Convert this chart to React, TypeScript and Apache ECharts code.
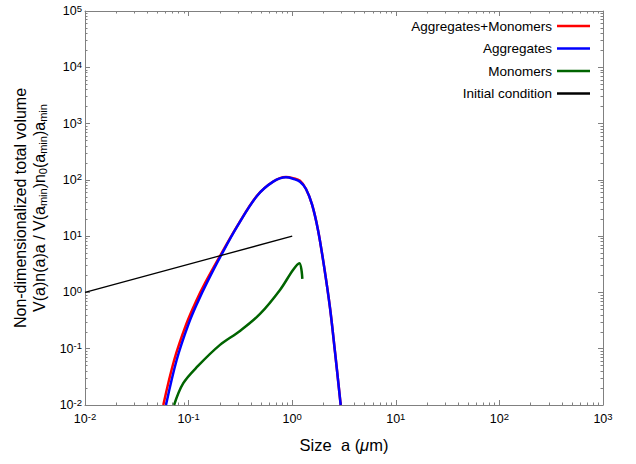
import React, { useEffect, useRef } from "react";
import * as echarts from "echarts";

// Particle size a (μm) and non-dimensionalized total volume for each population
const SIZE_TOTAL = [0.057, 0.0726, 0.0951, 0.1184, 0.1445, 0.1987, 0.2965, 0.457, 0.656, 0.871, 1.018, 1.189, 1.359, 1.553, 1.774, 2.027, 2.317, 2.589, 2.938];
const TOTAL = [0.01, 0.063, 0.276, 0.706, 1.475, 4.27, 15.4, 52.2, 93.7, 112.7, 107.2, 96.2, 68.9, 36.6, 12.9, 2.96, 0.531, 0.0877, 0.01];

const SIZE_AGG = [0.0605, 0.0767, 0.1, 0.124, 0.15, 0.202, 0.2965, 0.457, 0.656, 0.871, 1.018, 1.189, 1.359, 1.553, 1.774, 2.027, 2.317, 2.589, 2.938];
const AGG = [0.01, 0.063, 0.276, 0.706, 1.475, 4.27, 15.2, 51.8, 92.9, 111, 104.7, 92.9, 68.9, 36.6, 12.9, 2.96, 0.531, 0.0877, 0.01];

const SIZE_MONO = [0.0724, 0.0889, 0.1233, 0.201, 0.313, 0.489, 0.762, 1.018, 1.172, 1.253];
const MONO = [0.01, 0.0244, 0.0494, 0.117, 0.207, 0.415, 1.107, 2.51, 3.31, 1.74];

const SIZE_INIT = [0.01, 1];
const INIT = [1, 10];

const SERIES_NAMES = ["Aggregates+Monomers", "Aggregates", "Monomers", "Initial condition"];
const SERIES_COLORS = ["#ff0000", "#0000ff", "#006400", "#000000"];

// Axis ranges as decade exponents
const X_DECADES = [-2, 3];
const Y_DECADES = [-2, 5];

const FONT = "'Liberation Sans', Arial, sans-serif";
const AXIS_GRAY = "#808080";

const pairs = (xs: number[], ys: number[]) => xs.map((x, i) => [x, ys[i]]);

// Decade and sub-decade tick positions, in log10 space
const majorLogs = (d: number[]) => {
  const out: number[] = [];
  for (let e = d[0]; e <= d[1]; e++) out.push(e);
  return out;
};
const minorLogs = (d: number[]) => {
  const out: number[] = [];
  for (let e = d[0]; e < d[1]; e++) for (let k = 2; k <= 9; k++) out.push(e + Math.log10(k));
  return out;
};

const powRich = {
  b: { fontSize: 12.5, fontFamily: FONT, color: "#000", lineHeight: 16, verticalAlign: "middle" },
  s: { fontSize: 9.5, fontFamily: FONT, color: "#000", lineHeight: 10, verticalAlign: "top" },
};
const powFormatter = (v: number) => {
  const e = Math.round(Math.log10(v));
  return `{b|10}{s|${e}}`;
};

const tickAxis = (position: string, decades: number[], values: number[], len: number, showLine: boolean) => ({
  type: "value",
  position,
  min: decades[0],
  max: decades[1],
  axisLine: { show: showLine, onZero: false, lineStyle: { color: AXIS_GRAY, width: 1 } },
  axisTick: { show: true, inside: true, length: len, customValues: values, lineStyle: { color: AXIS_GRAY, width: 1 } },
  axisLabel: { show: false },
  splitLine: { show: false },
});

export default function App() {
  const ref = useRef<HTMLDivElement>(null);

  useEffect(() => {
    if (!ref.current) return;
    const chart = echarts.init(ref.current, null, { renderer: "svg" });

    const seriesData = [
      pairs(SIZE_TOTAL, TOTAL),
      pairs(SIZE_AGG, AGG),
      pairs(SIZE_MONO, MONO),
      pairs(SIZE_INIT, INIT),
    ];

    chart.setOption({
      animation: false,
      backgroundColor: "#ffffff",
      textStyle: { fontFamily: FONT },
      grid: { left: 85, right: 33, top: 11, bottom: 59, containLabel: false },
      legend: {
        orient: "vertical",
        right: 41,
        top: 13,
        align: "right",
        icon: "rect",
        itemWidth: 33,
        itemHeight: 2.5,
        itemGap: 6.5,
        textStyle: { fontSize: 13.5, color: "#000", fontFamily: FONT, lineHeight: 16 },
        data: SERIES_NAMES,
      },
      xAxis: [
        {
          type: "log",
          logBase: 10,
          position: "bottom",
          min: Math.pow(10, X_DECADES[0]),
          max: Math.pow(10, X_DECADES[1]),
          splitNumber: X_DECADES[1] - X_DECADES[0],
          name: "{t|Size  a (}{mu|μ}{t|m)}",
          nameLocation: "middle",
          nameGap: 31,
          nameTextStyle: {
            rich: {
              t: { fontSize: 16.5, fontFamily: FONT, color: "#000" },
              mu: { fontSize: 16.5, fontFamily: FONT, color: "#000", fontStyle: "italic" },
            },
          },
          axisLine: { show: true, onZero: false, lineStyle: { color: AXIS_GRAY, width: 1 } },
          axisTick: { show: true, inside: true, length: 5, lineStyle: { color: AXIS_GRAY } },
          axisLabel: { margin: 6, formatter: powFormatter, rich: powRich },
          splitLine: { show: false },
        },
        tickAxis("bottom", X_DECADES, minorLogs(X_DECADES), 2.5, false),
        tickAxis("top", X_DECADES, majorLogs(X_DECADES), 5, true),
        tickAxis("top", X_DECADES, minorLogs(X_DECADES), 2.5, false),
      ],
      yAxis: [
        {
          type: "log",
          logBase: 10,
          position: "left",
          min: Math.pow(10, Y_DECADES[0]),
          max: Math.pow(10, Y_DECADES[1]),
          splitNumber: Y_DECADES[1] - Y_DECADES[0],
          name:
            "{t|Non-dimensionalized total volume}\n{t|V(a)n(a)a / V(a}{u|min}{t|)n}{u|0}{t|(a}{u|min}{t|)a}{u|min}",
          nameLocation: "middle",
          nameRotate: 90,
          nameGap: 36,
          nameTextStyle: {
            rich: {
              t: { fontSize: 16, fontFamily: FONT, color: "#000", lineHeight: 19 },
              u: { fontSize: 11, fontFamily: FONT, color: "#000", lineHeight: 10, verticalAlign: "bottom" },
            },
          },
          axisLine: { show: true, onZero: false, lineStyle: { color: AXIS_GRAY, width: 1 } },
          axisTick: { show: true, inside: true, length: 5, lineStyle: { color: AXIS_GRAY } },
          axisLabel: { margin: 3, formatter: powFormatter, rich: powRich },
          splitLine: { show: false },
        },
        tickAxis("left", Y_DECADES, minorLogs(Y_DECADES), 2.5, false),
        tickAxis("right", Y_DECADES, majorLogs(Y_DECADES), 5, true),
        tickAxis("right", Y_DECADES, minorLogs(Y_DECADES), 2.5, false),
      ],
      series: SERIES_NAMES.map((name, i) => ({
        name,
        type: "line",
        xAxisIndex: 0,
        yAxisIndex: 0,
        data: seriesData[i],
        showSymbol: false,
        symbol: "none",
        smooth: i === 3 ? false : 0.35,
        clip: true,
        color: SERIES_COLORS[i],
        lineStyle: { color: SERIES_COLORS[i], width: i === 3 ? 1.3 : 2.5 },
        z: 2 + i,
      })),
    });

    return () => chart.dispose();
  }, []);

  return (
    <div
      ref={ref}
      style={{ position: "absolute", left: 0, top: 0, width: 636, height: 464 }}
    />
  );
}
